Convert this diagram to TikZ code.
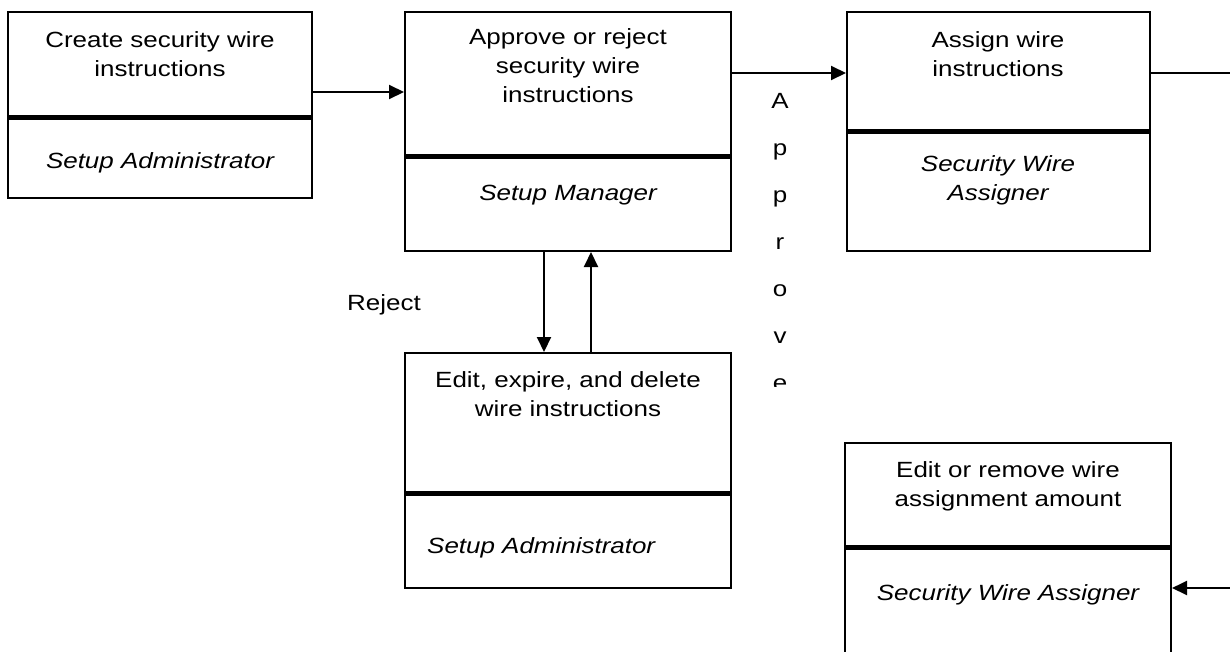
\documentclass[tikz,border=0pt]{standalone}
\usepackage{fontspec}
\setmainfont[FakeStretch=1.18]{Liberation Sans}
\usetikzlibrary{arrows.meta}

\begin{document}
\begin{tikzpicture}[x=1pt,y=-1pt,
  box/.style={draw,line width=2pt,inner sep=0pt},
  divider/.style={line width=5pt},
  lbl/.style={font=\fontsize{22}{29}\selectfont,align=center,inner sep=0pt},
  role/.style={font=\fontsize{22}{29}\selectfont\itshape,align=center,inner sep=0pt},
  flow/.style={line width=2pt,-{Triangle[length=15pt,width=14pt]}}]
  \path[use as bounding box] (0,0) rectangle (1230,651);
  \clip (0,0) rectangle (1230,651);

  % the five task boxes
  \node[box,minimum width=304,minimum height=186] (create) at (160,105) {};
  \node[box,minimum width=326,minimum height=239] (approve) at (568,131.5) {};
  \node[box,minimum width=303,minimum height=239] (assign) at (998.5,131.5) {};
  \node[box,minimum width=326,minimum height=235] (edit) at (568,470.5) {};
  \node[box,minimum width=326,minimum height=257] (amend) at (1008,571.5) {};

  % task / role split
  \draw[divider] (create.west |- 0,117) -- (create.east |- 0,117);
  \draw[divider] (approve.west |- 0,156) -- (approve.east |- 0,156);
  \draw[divider] (assign.west |- 0,131) -- (assign.east |- 0,131);
  \draw[divider] (edit.west |- 0,493) -- (edit.east |- 0,493);
  \draw[divider] (amend.west |- 0,547) -- (amend.east |- 0,547);

  \node[lbl] (createtask) at (160,54) {Create security wire\\instructions};
  \node[role] (createrole) at (160,163) {Setup Administrator};
  \node[lbl] (approvetask) at (568,66) {Approve or reject\\security wire\\instructions};
  \node[role] (approverole) at (568,195) {Setup Manager};
  \node[lbl] (assigntask) at (998,54) {Assign wire\\instructions};
  \node[role] (assignrole) at (998,180) {Security Wire\\Assigner};
  \node[lbl] (edittask) at (568,394) {Edit, expire, and delete\\wire instructions};
  \node[role,anchor=west] (editrole) at (427,548) {Setup Administrator};
  \node[lbl] (amendtask) at (1008,486) {Edit or remove wire\\assignment amount};
  \node[role] (amendrole) at (1008,595) {Security Wire Assigner};

  \node[lbl] (reject) at (384,305) {Reject};
  \begin{scope}
    \clip (740,80) rectangle (820,386);
    \foreach \ch [count=\i] in {A,p,p,r,o,v,e}
      \node[lbl,anchor=base] (ap\i) at (780,61+47*\i) {\ch};
  \end{scope}

  \coordinate (out) at (1232,73);
  \coordinate (in) at (1232,588);

  \draw[flow] (create.east |- 0,92) -- (approve.west |- 0,92);
  \draw[flow] (approve.east |- 0,73) -- (assign.west |- 0,73);
  \draw[line width=2pt] (assign.east |- out) -- (out);
  \draw[flow] (approve.south -| 544,0) -- (edit.north -| 544,0);
  \draw[flow] (edit.north -| 591,0) -- (approve.south -| 591,0);
  \draw[flow] (in) -- (amend.east |- in);
\end{tikzpicture}
\end{document}
